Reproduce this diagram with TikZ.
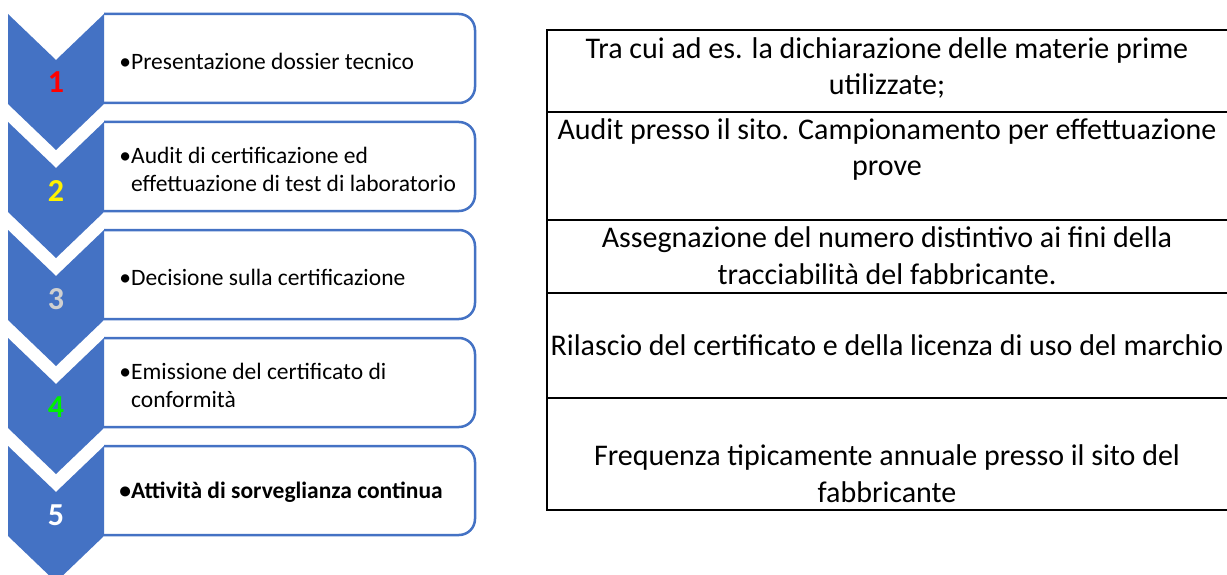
\documentclass[tikz,border=0pt]{standalone}
\usepackage{fontspec}
\setmainfont{Carlito}
\definecolor{stepblue}{HTML}{4472C4}
\definecolor{stepgrey}{HTML}{D0D0D0}
\definecolor{stepgreen}{HTML}{00F000}
\tikzset{
  chevron/.style={fill=stepblue, draw=none},
  stepbox/.style={draw=stepblue, line width=2.5pt, rounded corners=16pt, fill=white},
  steptext/.style={anchor=west, align=left, inner sep=0pt, font=\fontsize{23.5}{28}\selectfont},
  stepnum/.style={anchor=base, inner sep=0pt, font=\fontsize{32}{36}\selectfont\bfseries},
  rowtext/.style={anchor=base, align=center, inner sep=0pt, font=\fontsize{30}{36.5}\selectfont},
  tablerule/.style={line width=2pt, black}
}

\begin{document}
\begin{tikzpicture}[x=1pt, y=-1pt]
\useasboundingbox (0,0) rectangle (1227,575);
\clip (0,0) rectangle (1227,575);

% steps: box, chevron, number
\foreach \t/\c/\n in {14/red/1, 122/yellow/2, 230/stepgrey/3, 338/stepgreen/4, 446/white/5} {
  \draw[stepbox] (104,\t) -- (475,\t) -- (475,\t+89) -- (104,\t+89);
  \fill[chevron] (8,\t) -- (56,\t+46) -- (104,\t) -- (104,\t+90) -- (56,\t+136) -- (8,\t+90) -- cycle;
  \node[stepnum, text=\c] (n\n) at (56,\t+79) {\n};
}

% step texts
\node[steptext] (s1) at (131,61) {\llap{\textbullet}Presentazione dossier tecnico};
\node[steptext] (s2) at (131,169) {\llap{\textbullet}Audit di certificazione ed\\effettuazione di test di laboratorio};
\node[steptext] (s3) at (131,277) {\llap{\textbullet}Decisione sulla certificazione};
\node[steptext] (s4) at (131,385) {\llap{\textbullet}Emissione del certificato di\\conformità};
\node[steptext, font=\fontsize{23.5}{28}\selectfont\bfseries] (s5) at (131,492) {\llap{\textbullet}Attività di sorveglianza continua};

% table
\draw[tablerule] (547,30) -- (547,510);
\foreach \y in {30,112,220,293,398,510}
  \draw[tablerule] (546,\y) -- (1227,\y);

\node[rowtext] (r1) at (887,95) {Tra cui ad es. la dichiarazione delle materie prime\\utilizzate;};
\node[rowtext] (r2) at (887,176) {Audit presso il sito. Campionamento per effettuazione\\prove};
\node[rowtext] (r3) at (887,284) {Assegnazione del numero distintivo ai fini della\\tracciabilità del fabbricante.};
\node[rowtext] (r4) at (887,355) {Rilascio del certificato e della licenza di uso del marchio};
\node[rowtext] (r5) at (887,502) {Frequenza tipicamente annuale presso il sito del\\fabbricante};
\end{tikzpicture}
\end{document}
